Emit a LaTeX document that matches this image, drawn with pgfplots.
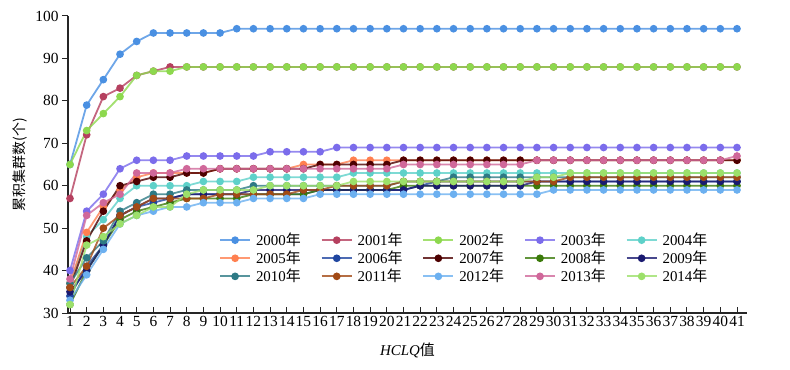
\documentclass[border=0pt]{standalone}
\usepackage{fontspec}
\setmainfont{Liberation Serif}
\newfontfamily\cjk{Noto Sans CJK SC}
\usepackage{pgfplots}
\usepackage{pgfplotstable}
\pgfplotsset{compat=1.18}
\definecolor{c00}{HTML}{4A90E2}
\definecolor{c01}{HTML}{B5405F}
\definecolor{c02}{HTML}{8DD84E}
\definecolor{c03}{HTML}{7B6CEB}
\definecolor{c04}{HTML}{5ED1C9}
\definecolor{c05}{HTML}{FF8050}
\definecolor{c06}{HTML}{2046A0}
\definecolor{c07}{HTML}{4D0000}
\definecolor{c08}{HTML}{3B7A0A}
\definecolor{c09}{HTML}{1A1A70}
\definecolor{c10}{HTML}{2E7A85}
\definecolor{c11}{HTML}{A24A15}
\definecolor{c12}{HTML}{6CB0F0}
\definecolor{c13}{HTML}{D0689A}
\definecolor{c14}{HTML}{9CE06A}
\pgfplotstableread{
x  a  b  c  d  e  f  g  h  i  j  k  l  m  n  o
1  65 57 65 40 37 37 34 36 32 35 37 36 33 38 32
2  79 72 73 54 48 49 41 47 40 40 43 41 39 53 46
3  85 81 77 58 52 55 46 54 46 46 47 50 45 56 48
4  91 83 81 64 57 59 53 60 52 53 54 53 51 58 51
5  94 86 86 66 60 62 55 61 54 55 56 55 53 63 53
6  96 87 87 66 60 63 56 62 55 57 58 57 54 63 55
7  96 88 87 66 60 63 57 62 56 57 58 57 55 63 55
8  96 88 88 67 60 63 58 63 57 58 59 57 55 64 58
9  96 88 88 67 61 63 58 63 57 58 59 57 56 64 59
10 96 88 88 67 61 64 58 64 57 58 59 58 56 64 59
11 97 88 88 67 61 64 58 64 57 58 59 58 56 64 59
12 97 88 88 67 62 64 58 64 58 59 60 58 57 64 59
13 97 88 88 68 62 64 58 64 58 59 60 58 57 64 60
14 97 88 88 68 62 64 58 64 58 59 60 58 57 64 60
15 97 88 88 68 62 65 58 64 58 59 60 59 57 64 60
16 97 88 88 68 62 65 59 65 59 59 60 59 58 64 60
17 97 88 88 69 62 65 59 65 59 59 60 60 58 64 60
18 97 88 88 69 63 66 59 65 59 59 60 60 58 64 61
19 97 88 88 69 63 66 59 65 59 59 60 60 58 64 61
20 97 88 88 69 63 66 59 65 59 59 60 60 58 64 61
21 97 88 88 69 63 66 59 66 60 59 61 61 58 65 61
22 97 88 88 69 63 66 60 66 60 60 61 61 58 65 61
23 97 88 88 69 63 66 61 66 60 60 61 61 58 65 61
24 97 88 88 69 63 66 61 66 60 60 62 61 58 65 61
25 97 88 88 69 63 66 61 66 60 60 62 61 58 65 61
26 97 88 88 69 63 66 61 66 60 60 62 61 58 65 61
27 97 88 88 69 63 66 61 66 60 60 62 61 58 65 61
28 97 88 88 69 63 66 61 66 60 60 62 61 58 65 61
29 97 88 88 69 63 66 61 66 60 61 62 61 58 66 62
30 97 88 88 69 63 66 61 66 60 61 62 61 59 66 62
31 97 88 88 69 63 66 61 66 60 61 62 62 59 66 63
32 97 88 88 69 63 66 61 66 60 61 62 62 59 66 63
33 97 88 88 69 63 66 61 66 60 61 62 62 59 66 63
34 97 88 88 69 63 66 61 66 60 61 62 62 59 66 63
35 97 88 88 69 63 66 61 66 60 61 62 62 59 66 63
36 97 88 88 69 63 66 61 66 60 61 62 62 59 66 63
37 97 88 88 69 63 66 61 66 60 61 62 62 59 66 63
38 97 88 88 69 63 66 61 66 60 61 62 62 59 66 63
39 97 88 88 69 63 66 61 66 60 61 62 62 59 66 63
40 97 88 88 69 63 66 61 66 60 61 62 62 59 66 63
41 97 88 88 69 63 66 61 66 60 61 62 62 59 67 63
}\datatable
\begin{document}
\begin{tikzpicture}
\useasboundingbox (0,0) rectangle (790bp,370bp);
\begin{axis}[
  at={(68bp,57bp)}, anchor=south west,
  scale only axis, width=679bp, height=297bp,
  xmin=0.88, xmax=41.6, ymin=30, ymax=100,
  axis x line*=bottom, axis y line*=left,
  axis line style={line width=1.3bp, black!85},
  xtick={1,...,41}, ytick={30,40,...,100},
  xtick align=inside, ytick align=outside,
  major tick length=6bp,
  every tick/.style={black!85, line width=1bp},
  /pgf/number format/assume math mode=true,
  ticklabel style={font=\fontsize{15.5}{16}\selectfont},
  xticklabel style={inner sep=1.5bp, yshift=-2bp},
  xlabel={\itshape HCLQ\upshape{\cjk 值}},
  xlabel style={at={(axis description cs:0.5,-0.125)}, anchor=center, font=\fontsize{15}{16}\selectfont},
  ylabel={\cjk 累积集群数(个)},
  ylabel style={at={(axis description cs:-0.07,0.5)}, anchor=center, font=\fontsize{14}{16}\selectfont},
  legend style={at={(axis description cs:0.218,0.283)}, anchor=north west, draw=none, fill=none,
     font=\fontsize{15}{18}\selectfont, legend columns=5,
     /tikz/every even column/.append style={column sep=15bp},
     nodes={inner xsep=5bp}},
  legend cell align=left,
  legend image code/.code={\draw[mark repeat=2,mark phase=2] plot coordinates {(0bp,0bp)(15bp,0bp)(30bp,0bp)};},
  every axis plot/.append style={line width=1.8bp, draw opacity=0.8, mark=*, mark size=2.9bp, mark options={solid, draw opacity=1}},
]
\addplot[color=c00] table[x=x,y=a]{\datatable}; \addlegendentry{2000{\cjk 年}}
\addplot[color=c01] table[x=x,y=b]{\datatable}; \addlegendentry{2001{\cjk 年}}
\addplot[color=c02] table[x=x,y=c]{\datatable}; \addlegendentry{2002{\cjk 年}}
\addplot[color=c03] table[x=x,y=d]{\datatable}; \addlegendentry{2003{\cjk 年}}
\addplot[color=c04] table[x=x,y=e]{\datatable}; \addlegendentry{2004{\cjk 年}}
\addplot[color=c05] table[x=x,y=f]{\datatable}; \addlegendentry{2005{\cjk 年}}
\addplot[color=c06] table[x=x,y=g]{\datatable}; \addlegendentry{2006{\cjk 年}}
\addplot[color=c07] table[x=x,y=h]{\datatable}; \addlegendentry{2007{\cjk 年}}
\addplot[color=c08] table[x=x,y=i]{\datatable}; \addlegendentry{2008{\cjk 年}}
\addplot[color=c09] table[x=x,y=j]{\datatable}; \addlegendentry{2009{\cjk 年}}
\addplot[color=c10] table[x=x,y=k]{\datatable}; \addlegendentry{2010{\cjk 年}}
\addplot[color=c11] table[x=x,y=l]{\datatable}; \addlegendentry{2011{\cjk 年}}
\addplot[color=c12] table[x=x,y=m]{\datatable}; \addlegendentry{2012{\cjk 年}}
\addplot[color=c13] table[x=x,y=n]{\datatable}; \addlegendentry{2013{\cjk 年}}
\addplot[color=c14] table[x=x,y=o]{\datatable}; \addlegendentry{2014{\cjk 年}}
\end{axis}
\end{tikzpicture}
\end{document}
